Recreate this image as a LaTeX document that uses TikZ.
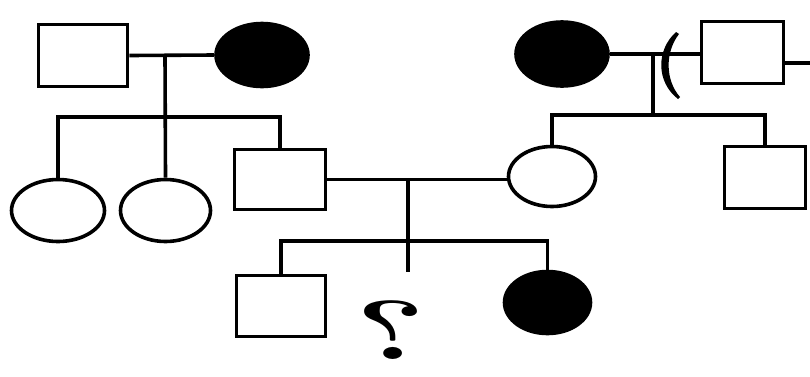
\documentclass[tikz,border=0pt]{standalone}
\usetikzlibrary{shapes.geometric}
\begin{document}
\begin{tikzpicture}[x=1pt,y=-1pt,line width=3.6pt,
  male/.style={draw,rectangle,inner sep=0pt},
  female/.style={draw,ellipse,inner sep=0pt},
  affected/.style={female,fill=black}]
\useasboundingbox (0,0) rectangle (810,376);
% generation I
\node[male,minimum width=89pt,minimum height=62pt] (m1) at (83,55.5) {};
\node[affected,minimum width=92pt,minimum height=63pt] (f1) at (262,55) {};
\node[affected,minimum width=92pt,minimum height=64pt] (f2) at (562,54) {};
\node[male,minimum width=82pt,minimum height=62pt] (m3) at (742.5,52.5) {};
% generation II
\node[female,minimum width=93pt,minimum height=62pt] (d1) at (58,210.5) {};
\node[female,minimum width=90pt,minimum height=62pt] (d2) at (165.5,210.5) {};
\node[male,minimum width=91pt,minimum height=60pt] (m2) at (280,179.5) {};
\node[female,minimum width=87pt,minimum height=60pt] (f3) at (552,176.5) {};
\node[male,minimum width=81pt,minimum height=62pt] (m4) at (765,177.5) {};
% generation III
\node[male,minimum width=89pt,minimum height=61pt] (s1) at (281,306) {};
\node[affected,minimum width=86pt,minimum height=62pt] (s2) at (547.5,302.5) {};
\node[inner sep=0pt,anchor=base,font=\fontsize{84}{84}\selectfont\bfseries] (q) at (391,359) {\scalebox{1.55}[1]{\reflectbox{?}}};
% coordinates
\coordinate (c1) at (165,55);
\coordinate (sib1) at (165,117);
\coordinate (c2) at (653,53);
\coordinate (sib2) at (653,115);
\coordinate (c3) at (408,178);
\coordinate (sib3) at (408,241);
\coordinate (c3end) at (408,272);
\coordinate (rt) at (810,63);
% marriages
\draw (m1.east) -- (f1.west);
\draw (f2.east) -- (f2.east -| m3.west);
\draw (m3.east |- rt) -- (rt);
\draw (m2.east) -- (m2.east -| f3.west);
% descents
\draw (c1) -- (d2.north);
\draw (d1.north) |- (sib1) -| (m2.north);
\draw (c2) -- (sib2);
\draw (f3.north) |- (sib2) -| (m4.north);
\draw (c3) -- (c3end);
\draw (s1.north) |- (sib3) -| (s2.north);
% crescent mark
\fill (676,32) .. controls (656,50) and (656,82) .. (678,99)
  -- (680,97) .. controls (665,80) and (665,52) .. (679,34) -- cycle;
\end{tikzpicture}
\end{document}
